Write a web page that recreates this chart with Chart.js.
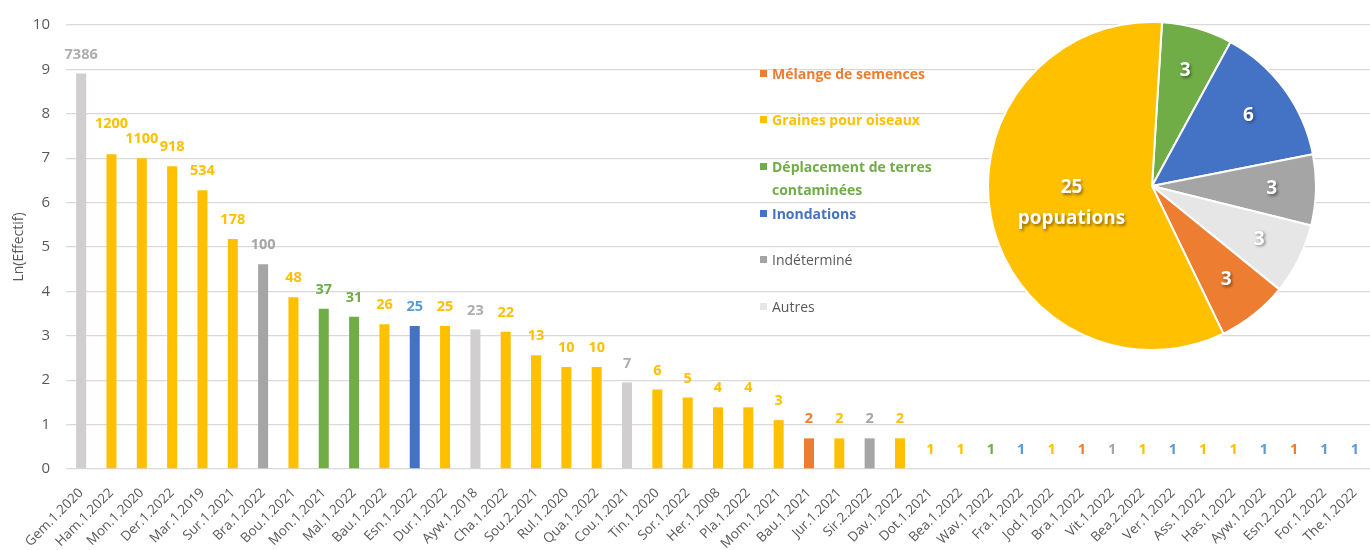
<!DOCTYPE html>
<html lang="fr">
<head>
  <meta charset="UTF-8" />
  <title>Ln(Effectif) par population</title>
  <script src="https://cdn.jsdelivr.net/npm/chart.js"></script>
  <style>
    body {
      margin: 0;
      background: #ffffff;
      font-family: 'Open Sans', sans-serif;
    }
    .wrap {
      position: relative;
      width: 1370px;
      height: 550px;
      overflow: hidden;
    }
    #bars { position: absolute; left: 0; top: 0; }
    #pie { position: absolute; left: 987px; top: 21px; }
    .legend-item {
      position: absolute;
      left: 760px;
      font-size: 14px;
      line-height: 23px;
      padding-left: 12px;
      width: 200px;
    }
    .legend-item .sq {
      position: absolute;
      left: 0;
      top: 8px;
      width: 7px;
      height: 7px;
    }
  </style>
</head>
<body>
  <div class="wrap">
    <canvas id="bars" width="1370" height="550"></canvas>
    <canvas id="pie" width="330" height="330"></canvas>
    <div id="legend"></div>
  </div>

  <script>
    const labels = ['Gem.1.2020', 'Ham.1.2022', 'Mon.1.2020', 'Der.1.2022', 'Mar.1.2019', 'Sur.1.2021',
      'Bra.1.2022', 'Bou.1.2021', 'Mon.1.2021', 'Mal.1.2022', 'Bau.1.2022', 'Esn.1.2022', 'Dur.1.2022',
      'Ayw.1.2018', 'Cha.1.2022', 'Sou.2.2021', 'Rul.1.2020', 'Qua.1.2022', 'Cou.1.2021', 'Tin.1.2020',
      'Sor.1.2022', 'Her.1.2008', 'Pla.1.2022', 'Mom.1.2021', 'Bau.1.2021', 'Jur.1.2021', 'Sir.2.2022',
      'Dav.1.2022', 'Dot.1.2021', 'Bea.1.2022', 'Wav.1.2022', 'Fra.1.2022', 'Jod.1.2022', 'Bra.1.2022',
      'Vit.1.2022', 'Bea.2.2022', 'Ver.1.2022', 'Ass.1.2022', 'Has.1.2022', 'Ayw.1.2022', 'Esn.2.2022',
      'For.1.2022', 'The.1.2022'];

    // effectif shown above each bar
    const counts = [7386, 1200, 1100, 918, 534, 178, 100, 48, 37, 31, 26, 25, 25, 23, 22, 13, 10, 10, 7, 6,
      5, 4, 4, 3, 2, 2, 2, 2, 1, 1, 1, 1, 1, 1, 1, 1, 1, 1, 1, 1, 1, 1, 1];

    // bar heights: Ln(Effectif)
    const lnValues = [8.91, 7.09, 7.00, 6.82, 6.28, 5.18, 4.61, 3.87, 3.61, 3.43, 3.26, 3.22, 3.22, 3.14,
      3.09, 2.56, 2.30, 2.30, 1.95, 1.79, 1.61, 1.39, 1.39, 1.10, 0.69, 0.69, 0.69, 0.69,
      0, 0, 0, 0, 0, 0, 0, 0, 0, 0, 0, 0, 0, 0, 0];

    const categories = ['Mélange de semences', 'Graines pour oiseaux', 'Déplacement de terres contaminées',
      'Inondations', 'Indéterminé', 'Autres'];

    // category index of each population
    const groups = [5, 1, 1, 1, 1, 1, 4, 1, 2, 2, 1, 3, 1, 5, 1, 1, 1, 1, 5, 1, 1, 1, 1, 1, 0, 1, 4, 1,
      1, 1, 2, 3, 1, 0, 4, 1, 3, 1, 1, 3, 0, 3, 3];

    // pie: number of populations per category, clockwise from the top
    const pieCats = [2, 3, 4, 5, 0, 1];
    const pieValues = [3, 6, 3, 3, 3, 25];
    const pieUnit = 'popuations';

    const yTicks = [0, 1, 2, 3, 4, 5, 6, 7, 8, 9, 10];

    const barColors = ['#ED7D31', '#FFC000', '#70AD47', '#4472C4', '#A5A5A5', '#D0CECE'];
    const sliceColors = ['#ED7D31', '#FFC000', '#70AD47', '#4472C4', '#A5A5A5', '#E7E6E6'];
    const valueColors = ['#ED7D31', '#FFC000', '#70AD47', '#5B9BD5', '#A5A5A5', '#ADADAD'];
    const legendText = ['#ED7D31', '#FFC000', '#70AD47', '#4472C4', '#595959', '#595959'];

    const txt = '#595959';
    const labelFont = "bold 14.5px 'Open Sans', sans-serif";

    // count labels above bars, pushed up when they collide with the label to their right
    const barValues = {
      id: 'barValues',
      afterDatasetsDraw(chart) {
        const ctx = chart.ctx;
        const bars = chart.getDatasetMeta(0).data;
        ctx.save();
        ctx.font = labelFont;
        ctx.textAlign = 'center';
        ctx.textBaseline = 'middle';
        const placed = [];
        for (let i = bars.length - 1; i >= 0; i--) {
          const text = String(counts[i]);
          const w = ctx.measureText(text).width;
          let y = bars[i].y - 19;
          const next = placed[placed.length - 1];
          if (next && Math.abs(next.x - bars[i].x) < (w + next.w) / 2 && Math.abs(next.y - y) < 14) {
            y = next.y - 15;
          }
          placed.push({ x: bars[i].x, y: y, w: w });
          ctx.fillStyle = valueColors[groups[i]];
          ctx.fillText(text, bars[i].x, y);
        }
        ctx.restore();
      }
    };

    new Chart(document.getElementById('bars'), {
      type: 'bar',
      data: {
        labels: labels,
        datasets: [{
          data: lnValues,
          backgroundColor: groups.map(g => barColors[g]),
          barPercentage: 0.33,
          categoryPercentage: 1
        }]
      },
      options: {
        responsive: false,
        animation: false,
        layout: { padding: { top: 22, right: -5, left: 1, bottom: 0 } },
        plugins: { legend: { display: false }, tooltip: { enabled: false } },
        scales: {
          x: {
            grid: { display: false },
            border: { display: false },
            ticks: {
              color: txt,
              font: { family: 'Open Sans', size: 13.5 },
              maxRotation: 45,
              minRotation: 45,
              autoSkip: false,
              padding: 8
            },
            afterFit(scale) {
              scale.height = 81;
              scale.paddingLeft = 0;
              scale.paddingRight = 0;
            }
          },
          y: {
            min: 0,
            max: 10,
            afterBuildTicks(scale) { scale.ticks = yTicks.map(v => ({ value: v })); },
            grid: { color: '#D9D9D9', lineWidth: 1.3, drawTicks: false },
            border: { display: false },
            ticks: {
              color: txt,
              font: { family: 'Open Sans', size: 15 },
              padding: 16
            },
            title: {
              display: true,
              text: 'Ln(Effectif)',
              color: txt,
              font: { family: 'Open Sans', size: 14 },
              padding: { top: 10, bottom: 0 }
            },
            afterFit(scale) { scale.width = 65; }
          }
        }
      },
      plugins: [barValues]
    });

    // white labels inside the slices
    const sliceLabels = {
      id: 'sliceLabels',
      afterDatasetsDraw(chart) {
        const ctx = chart.ctx;
        const arcs = chart.getDatasetMeta(0).data;
        ctx.save();
        ctx.textAlign = 'center';
        ctx.textBaseline = 'middle';
        ctx.fillStyle = '#ffffff';
        ctx.shadowColor = 'rgba(0,0,0,0.45)';
        ctx.shadowBlur = 3;
        ctx.shadowOffsetX = 1.5;
        ctx.shadowOffsetY = 1.5;
        ctx.font = "bold 19px 'Open Sans', sans-serif";
        arcs.forEach((arc, i) => {
          const mid = (arc.startAngle + arc.endAngle) / 2;
          const big = pieCats[i] === 1;
          const r = arc.outerRadius * (big ? 0.5 : 0.73);
          const x = arc.x + Math.cos(mid) * r;
          const y = arc.y + Math.sin(mid) * r;
          if (big) {
            ctx.fillText(String(pieValues[i]), x, y - 14);
            ctx.fillText(pieUnit, x, y + 17);
          } else {
            ctx.fillText(String(pieValues[i]), x, y);
          }
        });
        ctx.restore();
      }
    };

    new Chart(document.getElementById('pie'), {
      type: 'pie',
      data: {
        labels: pieCats.map(c => categories[c]),
        datasets: [{
          data: pieValues,
          backgroundColor: pieCats.map(c => sliceColors[c]),
          borderColor: '#ffffff',
          borderWidth: 2
        }]
      },
      options: {
        responsive: false,
        animation: false,
        rotation: 3.5,
        layout: { padding: 0 },
        plugins: { legend: { display: false }, tooltip: { enabled: false } }
      },
      plugins: [sliceLabels]
    });

    // legend, one row per category
    const legendTops = [62, 108, 155, 202, 248, 295];
    const legend = document.getElementById('legend');
    categories.forEach((name, i) => {
      const item = document.createElement('div');
      item.className = 'legend-item';
      item.style.top = legendTops[i] + 'px';
      item.style.color = legendText[i];
      item.style.fontWeight = i < 4 ? '700' : '400';
      item.innerHTML = '<span class="sq" style="background:' + sliceColors[i] + '"></span>' +
        (i === 2 ? 'Déplacement de terres<br>contaminées' : name);
      legend.appendChild(item);
    });
  </script>
</body>
</html>
